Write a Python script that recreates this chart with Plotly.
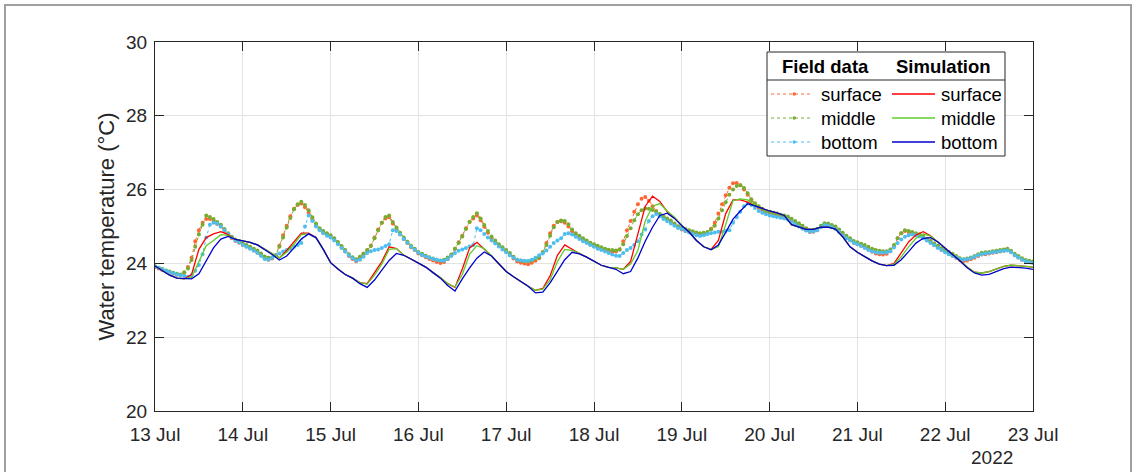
import pandas as pd
import plotly.graph_objects as go

# hourly field measurements, 13 Jul 00:00 .. 23 Jul 00:00 (241 values)
field_time = pd.date_range("2022-07-13 00:00", "2022-07-23 00:00", freq="1h")
# simulation output every 2 hours (121 values)
sim_time = pd.date_range("2022-07-13 00:00", "2022-07-23 00:00", freq="2h")

field_middle = [
    23.92, 23.88, 23.85, 23.81, 23.78, 23.75, 23.72, 23.70, 23.76, 23.86, 24.09, 24.45,
    24.78, 25.05, 25.30, 25.26, 25.20, 25.12, 25.05, 24.93, 24.82, 24.72, 24.65, 24.60,
    24.54, 24.50, 24.45, 24.40, 24.35, 24.27, 24.19, 24.15, 24.16, 24.21, 24.45, 24.70,
    24.97, 25.23, 25.47, 25.60, 25.67, 25.58, 25.44, 25.25, 25.08, 24.95, 24.88, 24.82,
    24.76, 24.68, 24.58, 24.47, 24.36, 24.25, 24.17, 24.11, 24.18, 24.27, 24.36, 24.47,
    24.68, 24.90, 25.10, 25.26, 25.30, 25.12, 24.97, 24.83, 24.70, 24.59, 24.48, 24.40,
    24.31, 24.26, 24.21, 24.17, 24.13, 24.10, 24.07, 24.10, 24.16, 24.24, 24.40, 24.55,
    24.73, 24.93, 25.13, 25.26, 25.36, 25.22, 25.04, 24.88, 24.73, 24.62, 24.52, 24.44,
    24.36, 24.28, 24.18, 24.10, 24.08, 24.06, 24.05, 24.08, 24.12, 24.17, 24.30, 24.50,
    24.75, 24.98, 25.12, 25.16, 25.15, 25.06, 24.92, 24.82, 24.75, 24.68, 24.62, 24.56,
    24.52, 24.48, 24.44, 24.40, 24.37, 24.36, 24.35, 24.38, 24.52, 24.74, 24.95, 25.17,
    25.33, 25.44, 25.49, 25.48, 25.45, 25.40, 25.34, 25.28, 25.22, 25.16, 25.08, 25.01,
    24.96, 24.93, 24.90, 24.87, 24.84, 24.82, 24.83, 24.85, 24.92, 25.02, 25.22, 25.44,
    25.66, 25.86, 26.00, 26.10, 26.12, 26.04, 25.90, 25.74, 25.63, 25.55, 25.48, 25.42,
    25.39, 25.37, 25.35, 25.32, 25.30, 25.27, 25.21, 25.15, 25.09, 25.02, 24.95, 24.90,
    24.91, 24.94, 25.02, 25.09, 25.08, 25.04, 25.00, 24.92, 24.83, 24.75, 24.68, 24.61,
    24.57, 24.53, 24.50, 24.45, 24.40, 24.36, 24.34, 24.33, 24.33, 24.38, 24.50, 24.68,
    24.82, 24.90, 24.88, 24.85, 24.82, 24.79, 24.74, 24.67, 24.61, 24.54, 24.48, 24.41,
    24.36, 24.31, 24.26, 24.20, 24.14, 24.11, 24.13, 24.16, 24.20, 24.25, 24.29, 24.30,
    24.31, 24.33, 24.34, 24.36, 24.38, 24.40, 24.34, 24.26, 24.20, 24.14, 24.09, 24.07,
    24.05,
]

field_surface = [
    23.90, 23.86, 23.82, 23.78, 23.75, 23.72, 23.69, 23.68, 23.75, 23.90, 24.15, 24.60,
    24.90, 25.10, 25.20, 25.20, 25.15, 25.07, 25.00, 24.88, 24.78, 24.68, 24.61, 24.56,
    24.50, 24.46, 24.41, 24.36, 24.30, 24.22, 24.14, 24.10, 24.13, 24.22, 24.48, 24.76,
    25.02, 25.28, 25.48, 25.58, 25.62, 25.52, 25.38, 25.20, 25.03, 24.91, 24.84, 24.78,
    24.72, 24.64, 24.54, 24.43, 24.32, 24.20, 24.12, 24.06, 24.14, 24.25, 24.35, 24.48,
    24.70, 24.92, 25.10, 25.22, 25.25, 25.08, 24.93, 24.79, 24.66, 24.55, 24.44, 24.36,
    24.27, 24.22, 24.17, 24.12, 24.08, 24.04, 24.01, 24.04, 24.12, 24.22, 24.40, 24.57,
    24.75, 24.95, 25.12, 25.22, 25.30, 25.17, 24.99, 24.83, 24.68, 24.57, 24.47, 24.39,
    24.31, 24.23, 24.13, 24.05, 24.02, 24.00, 23.98, 24.02, 24.07, 24.14, 24.30, 24.55,
    24.82, 25.02, 25.12, 25.14, 25.10, 25.00, 24.87, 24.77, 24.70, 24.63, 24.57, 24.51,
    24.47, 24.43, 24.39, 24.35, 24.32, 24.31, 24.32, 24.38, 24.60, 24.90, 25.15, 25.40,
    25.60, 25.75, 25.80, 25.70, 25.55, 25.42, 25.32, 25.25, 25.19, 25.13, 25.05, 24.98,
    24.92, 24.88, 24.85, 24.82, 24.79, 24.77, 24.79, 24.83, 24.94, 25.10, 25.35, 25.60,
    25.85, 26.05, 26.17, 26.18, 26.12, 26.00, 25.86, 25.70, 25.59, 25.51, 25.44, 25.38,
    25.35, 25.33, 25.31, 25.28, 25.26, 25.22, 25.16, 25.10, 25.04, 24.97, 24.90, 24.85,
    24.86, 24.90, 24.98, 25.05, 25.04, 25.00, 24.95, 24.87, 24.78, 24.70, 24.63, 24.56,
    24.52, 24.48, 24.44, 24.38, 24.32, 24.27, 24.25, 24.24, 24.26, 24.33, 24.48, 24.68,
    24.82, 24.88, 24.85, 24.81, 24.78, 24.75, 24.70, 24.63, 24.57, 24.50, 24.44, 24.37,
    24.31, 24.26, 24.21, 24.15, 24.09, 24.06, 24.08, 24.11, 24.15, 24.20, 24.24, 24.25,
    24.27, 24.29, 24.30, 24.32, 24.34, 24.36, 24.30, 24.22, 24.16, 24.10, 24.05, 24.03,
    24.01,
]

field_bottom = [
    23.92, 23.88, 23.84, 23.80, 23.76, 23.73, 23.70, 23.68, 23.66, 23.64, 23.68, 23.80,
    23.96, 24.25, 24.70, 25.05, 25.10, 25.08, 25.00, 24.90, 24.80, 24.70, 24.62, 24.57,
    24.50, 24.45, 24.40, 24.34, 24.28, 24.20, 24.12, 24.10, 24.15, 24.22, 24.27, 24.32,
    24.36, 24.40, 24.45, 24.50, 24.55, 25.00, 25.30, 25.15, 25.00, 24.90, 24.82, 24.75,
    24.70, 24.62, 24.52, 24.42, 24.32, 24.22, 24.14, 24.08, 24.10, 24.18, 24.28, 24.33,
    24.36, 24.38, 24.42, 24.47, 24.52, 24.90, 24.88, 24.78, 24.66, 24.56, 24.45, 24.37,
    24.29, 24.23, 24.19, 24.15, 24.12, 24.10, 24.08, 24.07, 24.12, 24.20, 24.28, 24.34,
    24.38, 24.42, 24.46, 24.50, 24.95, 24.90, 24.80, 24.70, 24.62, 24.54, 24.46, 24.38,
    24.30, 24.22, 24.15, 24.10, 24.08, 24.07, 24.07, 24.10, 24.15, 24.22, 24.27, 24.35,
    24.45, 24.55, 24.62, 24.68, 24.80, 24.82, 24.78, 24.72, 24.66, 24.60, 24.55, 24.50,
    24.45, 24.40, 24.36, 24.32, 24.28, 24.24, 24.21, 24.20, 24.28, 24.36, 24.42, 24.50,
    24.60, 24.78, 24.92, 25.15, 25.28, 25.34, 25.28, 25.20, 25.14, 25.08, 25.02, 24.96,
    24.93, 24.88, 24.84, 24.80, 24.76, 24.74, 24.76, 24.80, 24.82, 24.84, 24.86, 24.86,
    24.88, 24.90, 25.10, 25.25, 25.40, 25.55, 25.62, 25.58, 25.50, 25.42, 25.37, 25.33,
    25.30, 25.28, 25.26, 25.24, 25.22, 25.18, 25.12, 25.06, 25.00, 24.94, 24.89, 24.86,
    24.87, 24.90, 24.98, 25.04, 25.03, 24.98, 24.93, 24.85, 24.76, 24.68, 24.62, 24.56,
    24.52, 24.47, 24.42, 24.36, 24.32, 24.30, 24.29, 24.29, 24.30, 24.33, 24.43, 24.55,
    24.65, 24.72, 24.76, 24.78, 24.76, 24.73, 24.68, 24.62, 24.55, 24.49, 24.42, 24.36,
    24.30, 24.25, 24.20, 24.16, 24.12, 24.10, 24.11, 24.14, 24.18, 24.22, 24.25, 24.27,
    24.28, 24.30, 24.31, 24.33, 24.34, 24.35, 24.30, 24.22, 24.16, 24.10, 24.06, 24.03,
    24.01,
]

sim_bottom = [
    23.93, 23.80, 23.68, 23.60, 23.58, 23.58, 23.72, 24.08, 24.42, 24.66, 24.73, 24.65,
    24.61, 24.57, 24.50, 24.38, 24.24, 24.09, 24.20, 24.42, 24.66, 24.80, 24.70, 24.38,
    24.02, 23.85, 23.70, 23.60, 23.45, 23.35, 23.55, 23.82, 24.08, 24.27, 24.22, 24.12,
    24.02, 23.90, 23.75, 23.60, 23.40, 23.25, 23.58, 23.88, 24.14, 24.31, 24.20, 23.98,
    23.78, 23.64, 23.50, 23.38, 23.20, 23.22, 23.47, 23.80, 24.10, 24.30, 24.26, 24.17,
    24.05, 23.95, 23.89, 23.84, 23.72, 23.78, 24.15, 24.60, 24.98, 25.30, 25.36, 25.22,
    25.02, 24.85, 24.62, 24.45, 24.37, 24.50, 24.84, 25.20, 25.42, 25.62, 25.56, 25.48,
    25.42, 25.37, 25.30, 25.05, 24.98, 24.92, 24.92, 24.98, 24.98, 24.93, 24.72, 24.45,
    24.30, 24.18, 24.07, 23.98, 23.94, 23.95, 24.10, 24.32, 24.55, 24.68, 24.70, 24.58,
    24.42, 24.24, 24.07, 23.88, 23.74, 23.68, 23.70, 23.78, 23.86, 23.90, 23.89, 23.87,
    23.84,
]

sim_surface = [
    23.93, 23.80, 23.68, 23.60, 23.58, 23.70, 24.38, 24.70, 24.80, 24.86, 24.78, 24.65,
    24.61, 24.57, 24.50, 24.38, 24.26, 24.15, 24.35, 24.58, 24.82, 24.82, 24.70, 24.38,
    24.02, 23.85, 23.70, 23.60, 23.48, 23.45, 23.75, 24.05, 24.45, 24.40, 24.22, 24.12,
    24.02, 23.90, 23.75, 23.62, 23.45, 23.35, 23.85, 24.42, 24.57, 24.38, 24.20, 23.98,
    23.78, 23.64, 23.50, 23.38, 23.27, 23.32, 23.66, 24.22, 24.50, 24.38, 24.27, 24.17,
    24.05, 23.95, 23.89, 23.88, 23.84, 24.05, 24.80, 25.55, 25.82, 25.68, 25.40, 25.24,
    25.03, 24.85, 24.62, 24.45, 24.38, 24.62, 25.35, 25.72, 25.72, 25.66, 25.56, 25.48,
    25.42, 25.37, 25.30, 25.05, 24.98, 24.92, 24.92, 24.98, 24.98, 24.93, 24.72, 24.45,
    24.30, 24.18, 24.07, 23.98, 23.94, 24.00, 24.28, 24.58, 24.77, 24.86, 24.75, 24.58,
    24.42, 24.24, 24.07, 23.90, 23.76, 23.74, 23.78, 23.86, 23.92, 23.95, 23.94, 23.92,
    23.90,
]

sim_middle = [
    23.93, 23.80, 23.68, 23.60, 23.58, 23.62, 24.05, 24.48, 24.62, 24.78, 24.76, 24.65,
    24.61, 24.57, 24.50, 24.38, 24.26, 24.15, 24.30, 24.52, 24.78, 24.80, 24.70, 24.38,
    24.02, 23.85, 23.70, 23.60, 23.48, 23.44, 23.68, 23.98, 24.38, 24.40, 24.22, 24.12,
    24.02, 23.90, 23.75, 23.62, 23.45, 23.36, 23.70, 24.25, 24.48, 24.40, 24.20, 23.98,
    23.78, 23.64, 23.50, 23.38, 23.27, 23.30, 23.55, 24.05, 24.38, 24.35, 24.27, 24.17,
    24.05, 23.95, 23.89, 23.88, 23.84, 23.98, 24.35, 25.15, 25.55, 25.62, 25.42, 25.25,
    25.03, 24.85, 24.62, 24.45, 24.38, 24.45, 25.05, 25.70, 25.75, 25.72, 25.58, 25.48,
    25.42, 25.37, 25.30, 25.05, 24.98, 24.92, 24.92, 24.98, 24.98, 24.93, 24.72, 24.45,
    24.30, 24.18, 24.07, 23.98, 23.94, 23.98, 24.18, 24.45, 24.68, 24.80, 24.74, 24.58,
    24.42, 24.24, 24.07, 23.90, 23.76, 23.74, 23.78, 23.86, 23.92, 23.95, 23.94, 23.92,
    23.90,
]

labels = ["surface", "middle", "bottom"]
field_colors = ["#ff6633", "#77ac30", "#4dbeee"]
sim_colors = ["#ff0000", "#5fcc2a", "#0000cd"]

FONT = "Liberation Sans, Arial, sans-serif"

fig = go.Figure()

# field data: dots joined by a faint dotted line (MATLAB ':.')
for y, c in zip([field_surface, field_middle, field_bottom], field_colors):
    fig.add_trace(go.Scatter(x=field_time, y=y, mode="lines+markers",
                             line=dict(color=c, width=1, dash="dot"),
                             marker=dict(color=c, size=4), showlegend=False))

for y, c in zip([sim_surface, sim_middle, sim_bottom], sim_colors):
    fig.add_trace(go.Scatter(x=sim_time, y=y, mode="lines",
                             line=dict(color=c, width=1.3), showlegend=False))

# plot area in pixels: x 155..1033, y 42..411
L, R, T, B = 155, 1033, 42, 411
def px(x):
    return (x - L) / (R - L)
def py(y):
    return (B - y) / (B - T)

shapes = []
annotations = []

# outer grey frame
shapes.append(dict(type="rect", xref="paper", yref="paper",
                   x0=px(5), x1=px(1131), y0=py(490), y1=py(5),
                   line=dict(color="#a0a0a0", width=2), layer="below"))

# legend box
shapes.append(dict(type="rect", xref="paper", yref="paper",
                   x0=px(767), x1=px(1005), y0=py(156), y1=py(52),
                   line=dict(color="#262626", width=1), fillcolor="white"))
shapes.append(dict(type="line", xref="paper", yref="paper",
                   x0=px(767), x1=px(1005), y0=py(80), y1=py(80),
                   line=dict(color="#262626", width=1)))

txt = dict(family=FONT, size=18.5, color="#000000")
annotations.append(dict(text="<b>Field data</b>", x=px(825), y=py(66), xref="paper", yref="paper",
                        showarrow=False, font=txt, xanchor="center", yanchor="middle"))
annotations.append(dict(text="<b>Simulation</b>", x=px(943), y=py(66), xref="paper", yref="paper",
                        showarrow=False, font=txt, xanchor="center", yanchor="middle"))

for i, (lab, fc, sc) in enumerate(zip(labels, field_colors, sim_colors)):
    ry = [94, 118, 142][i]
    shapes.append(dict(type="line", xref="paper", yref="paper",
                       x0=px(771), x1=px(813), y0=py(ry), y1=py(ry),
                       line=dict(color=fc, width=1, dash="dot")))
    shapes.append(dict(type="circle", xref="paper", yref="paper",
                       x0=px(792.5), x1=px(796), y0=py(ry + 1.75), y1=py(ry - 1.75),
                       line=dict(color=fc, width=0), fillcolor=fc))
    shapes.append(dict(type="line", xref="paper", yref="paper",
                       x0=px(892), x1=px(935), y0=py(ry), y1=py(ry),
                       line=dict(color=sc, width=1.3)))
    annotations.append(dict(text=lab, x=px(819), y=py(ry), xref="paper", yref="paper",
                            showarrow=False, font=txt, xanchor="left", yanchor="middle"))
    annotations.append(dict(text=lab, x=px(939), y=py(ry), xref="paper", yref="paper",
                            showarrow=False, font=txt, xanchor="left", yanchor="middle"))

# year label under the last tick
annotations.append(dict(text="2022", x=px(992), y=py(458), xref="paper", yref="paper",
                        showarrow=False, xanchor="center", yanchor="middle",
                        font=dict(family=FONT, size=19, color="#262626")))

axis_style = dict(showline=True, linecolor="#262626", linewidth=1, mirror="ticks",
                  ticks="inside", ticklen=9, tickcolor="#262626",
                  showgrid=True, gridcolor="#e3e3e3", gridwidth=1, zeroline=False,
                  tickfont=dict(family=FONT, size=19, color="#262626"))

fig.update_layout(
    width=1136, height=472,
    margin=dict(l=L, r=1136 - R, t=T, b=472 - B),
    plot_bgcolor="white", paper_bgcolor="white",
    shapes=shapes, annotations=annotations,
    xaxis=dict(type="date", range=["2022-07-13", "2022-07-23"],
               dtick=86400000, tick0="2022-07-13", tickformat="%d %b",
               ticklabelstandoff=6, **axis_style),
    yaxis=dict(range=[20, 30], dtick=2, ticklabelstandoff=3,
               title=dict(text="Water temperature (°C)", standoff=5,
                          font=dict(family=FONT, size=22, color="#262626")),
               **axis_style),
)

fig.write_html("out.html", config={"displayModeBar": False},
               post_script="document.body.style.margin='0';")
